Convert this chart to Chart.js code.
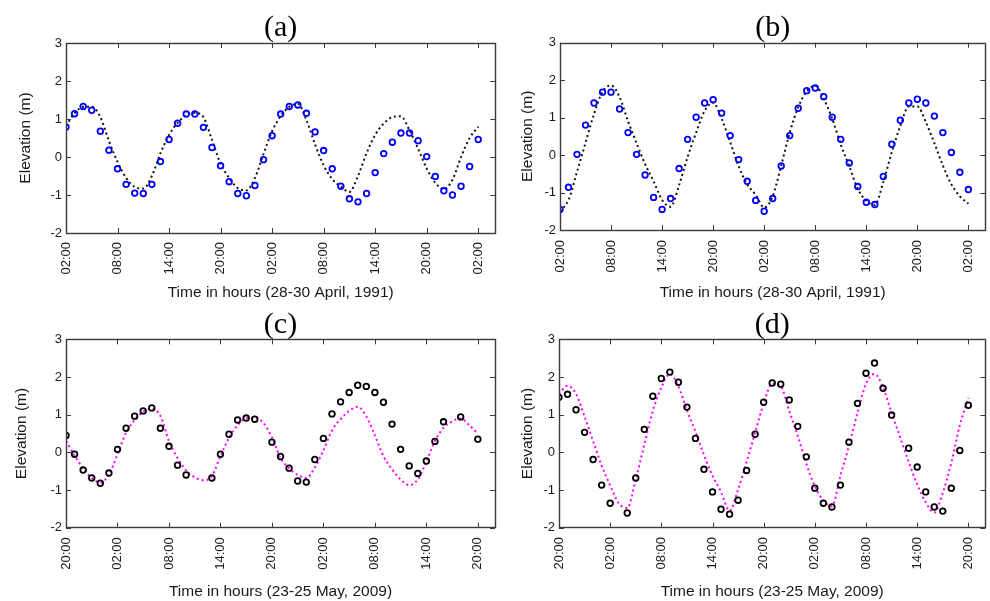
<!DOCTYPE html>
<html>
<head>
<meta charset="utf-8">
<script src="https://cdn.jsdelivr.net/npm/chart.js@4.4.0/dist/chart.umd.min.js"></script>
<style>
  body { margin: 0; background: #fff; }
  #wrap { position: relative; width: 990px; height: 601px; overflow: hidden; background: #fff; }
  canvas { position: absolute; }
</style>
</head>
<body>
<div id="wrap">
  <canvas id="chartA" width="500" height="300" style="left:0;top:0"></canvas>
  <canvas id="chartB" width="496" height="300" style="left:494px;top:0"></canvas>
  <canvas id="chartC" width="500" height="301" style="left:0;top:300px"></canvas>
  <canvas id="chartD" width="496" height="301" style="left:494px;top:300px"></canvas>
</div>
<script>
// hours since start of each record
const hours = [0, 1, 2, 3, 4, 5, 6, 7, 8, 9, 10, 11, 12, 13, 14, 15, 16, 17, 18, 19, 20, 21, 22, 23, 24,
  25, 26, 27, 28, 29, 30, 31, 32, 33, 34, 35, 36, 37, 38, 39, 40, 41, 42, 43, 44, 45, 46, 47, 48];

const xTicksApril = ['02:00', '08:00', '14:00', '20:00', '02:00', '08:00', '14:00', '20:00', '02:00'];
const xTicksMay = ['20:00', '02:00', '08:00', '14:00', '20:00', '02:00', '08:00', '14:00', '20:00'];

// (a) observed (circles) and model (dotted)
const obsA = [0.79, 1.14, 1.33, 1.23, 0.68, 0.18, -0.31, -0.72, -0.95, -0.96, -0.72, -0.12, 0.46, 0.89, 1.13, 1.13,
  0.78, 0.25, -0.23, -0.65, -0.96, -1.02, -0.75, -0.07, 0.56, 1.13, 1.33, 1.37, 1.15, 0.66, 0.17, -0.31, -0.77,
  -1.10, -1.18, -0.96, -0.41, 0.09, 0.39, 0.63, 0.63, 0.43, 0.01, -0.51, -0.89, -1.00, -0.77, -0.25, 0.46];
const modelA = [0.82, 1.15, 1.32, 1.32, 1.05, 0.42, -0.13, -0.55, -0.79, -0.83, -0.5, 0.1, 0.58, 0.9, 1.1, 1.16,
  1.05, 0.45, -0.18, -0.55, -0.82, -0.88, -0.55, 0.08, 0.68, 1.08, 1.32, 1.4, 0.97, 0.33, -0.22, -0.58, -0.78,
  -0.92, -0.5, 0.1, 0.58, 0.88, 1.05, 1.07, 0.7, 0.22, -0.3, -0.68, -0.85, -0.6, 0.0, 0.5, 0.8];

// (b)
const obsB = [-1.45, -0.86, 0.02, 0.80, 1.39, 1.68, 1.68, 1.23, 0.60, 0.02, -0.53, -1.13, -1.45, -1.16, -0.36, 0.42,
  1.01, 1.39, 1.48, 1.12, 0.52, -0.12, -0.70, -1.21, -1.50, -1.16, -0.29, 0.52, 1.25, 1.72, 1.79, 1.56, 1.01,
  0.42, -0.21, -0.84, -1.26, -1.32, -0.57, 0.29, 0.93, 1.39, 1.49, 1.39, 1.04, 0.60, 0.07, -0.46, -0.92];
const modelB = [-1.5, -1.2, -0.45, 0.33, 1.1, 1.69, 1.86, 1.55, 0.9, 0.32, -0.24, -0.7, -1.2, -1.38, -0.8, -0.05,
  0.6, 1.18, 1.4, 0.97, 0.35, -0.3, -0.78, -1.06, -1.4, -1.1, -0.28, 0.6, 1.28, 1.7, 1.85, 1.5, 0.97, 0.28,
  -0.3, -0.9, -1.22, -1.33, -0.72, 0.08, 0.78, 1.3, 1.3, 0.88, 0.32, -0.28, -0.78, -1.1, -1.3];

// (c)
const obsC = [0.45, -0.05, -0.47, -0.68, -0.82, -0.55, 0.08, 0.64, 0.96, 1.10, 1.18, 0.64, 0.16, -0.34, -0.60, null,
  null, -0.68, -0.05, 0.48, 0.86, 0.91, 0.88, null, 0.27, -0.11, -0.42, -0.76, -0.79, -0.19, 0.37, 1.02, 1.34,
  1.59, 1.78, 1.75, 1.59, 1.33, 0.75, 0.08, -0.36, -0.56, -0.23, 0.29, 0.81, null, 0.94, null, 0.35];
const modelC = [0.3, -0.08, -0.43, -0.68, -0.8, -0.6, -0.05, 0.52, 0.86, 1.08, 1.16, 0.97, 0.3, -0.15, -0.48, -0.66,
  -0.74, -0.63, -0.1, 0.38, 0.72, 0.9, 0.92, 0.78, 0.4, -0.15, -0.42, -0.6, -0.68, -0.4, 0.05, 0.58, 0.88, 1.1,
  1.21, 0.95, 0.45, -0.1, -0.45, -0.72, -0.87, -0.72, -0.25, 0.3, 0.65, 0.82, 0.9, 0.72, 0.5];

// (d)
const obsD = [1.46, 1.54, 1.13, 0.53, -0.19, -0.87, -1.35, null, -1.61, -0.68, 0.61, 1.49, 1.96, 2.13, 1.86, 1.20,
  0.37, -0.45, -1.05, -1.51, -1.64, -1.27, -0.48, 0.48, 1.33, 1.84, 1.81, 1.39, 0.69, -0.12, -0.95, -1.35, -1.45,
  -0.87, 0.27, 1.30, 2.10, 2.37, 1.70, 0.99, null, 0.11, -0.39, -1.05, -1.45, -1.56, -0.95, 0.05, 1.25];
const modelD = [1.55, 1.77, 1.55, 0.95, 0.3, -0.35, -0.88, -1.35, -1.48, -0.72, 0.2, 1.1, 1.72, 2.08, 1.75, 1.12,
  0.55, -0.07, -0.62, -1.05, -1.55, -0.99, -0.25, 0.52, 1.3, 1.82, 1.75, 1.1, 0.44, -0.3, -0.9, -1.28, -1.43,
  -0.62, 0.17, 1.05, 1.82, 2.08, 1.72, 1.05, 0.4, -0.25, -0.85, -1.32, -1.6, -1.08, -0.28, 0.72, 1.45];

const sans = '"Liberation Sans", Arial, sans-serif';

// matlab style box with inward ticks on all four sides
const frameTicks = {
  id: 'frameTicks',
  afterDatasetsDraw(chart) {
    const { ctx, chartArea: a, scales: { x, y } } = chart;
    const len = 5;
    ctx.save();
    ctx.strokeStyle = '#3a3a3a';
    ctx.lineWidth = 1;
    ctx.beginPath();
    x.ticks.forEach(t => {
      const px = Math.round(x.getPixelForValue(t.value)) + 0.5;
      ctx.moveTo(px, a.bottom); ctx.lineTo(px, a.bottom - len);
      ctx.moveTo(px, a.top); ctx.lineTo(px, a.top + len);
    });
    y.ticks.forEach(t => {
      const py = Math.round(y.getPixelForValue(t.value)) + 0.5;
      ctx.moveTo(a.left, py); ctx.lineTo(a.left + len, py);
      ctx.moveTo(a.right, py); ctx.lineTo(a.right - len, py);
    });
    ctx.stroke();
    ctx.lineWidth = 1.4;
    ctx.strokeRect(Math.round(a.left) + 0.5, Math.round(a.top) + 0.5,
      Math.round(a.width), Math.round(a.height));
    ctx.restore();
  }
};

function toPoints(arr) {
  return hours.map((h, i) => ({ x: h, y: arr[i] }));
}

function makePanel(p) {
  const ctx = document.getElementById(p.id).getContext('2d');
  return new Chart(ctx, {
    type: 'line',
    data: {
      datasets: [{
        label: 'Observed',
        data: toPoints(p.obs),
        showLine: false,
        pointStyle: 'circle',
        pointRadius: 2.8,
        pointBorderWidth: 1.8,
        pointBorderColor: p.obsColor,
        pointBackgroundColor: 'rgba(255,255,255,0)',
        pointHoverRadius: 2.8
      }, {
        label: 'Model',
        data: toPoints(p.model),
        borderColor: p.lineColor,
        borderWidth: 2,
        borderDash: [2, 3],
        pointRadius: 0,
        fill: false,
        cubicInterpolationMode: 'monotone'
      }]
    },
    options: {
      responsive: false,
      animation: false,
      devicePixelRatio: 1,
      layout: { padding: { left: 0, right: p.padRight, top: 0, bottom: 0 } },
      plugins: {
        legend: { display: false },
        tooltip: { enabled: false },
        title: {
          display: true,
          text: p.title,
          fullSize: false,
          color: '#000',
          font: { family: '"Liberation Serif", "Times New Roman", serif', size: 30, weight: 'normal', lineHeight: 0.9 },
          padding: p.titlePad
        }
      },
      scales: {
        x: {
          type: 'linear',
          min: 0,
          max: 50,
          grid: { display: false, drawTicks: false },
          border: { display: false },
          ticks: {
            stepSize: 6,
            includeBounds: false,
            autoSkip: false,
            minRotation: 90,
            maxRotation: 90,
            padding: p.xLabelPad,
            color: '#1a1a1a',
            font: { family: sans, size: 13 },
            callback: (v, i) => p.ticks[i]
          },
          title: {
            display: true,
            text: p.xTitle,
            color: '#1a1a1a',
            font: { family: sans, size: 15.5, lineHeight: 1 },
            padding: { top: 0, bottom: p.xTitlePad }
          },
          afterFit: s => {
            s.height = p.xHeight;
            s.paddingLeft = 0;
            s.paddingRight = 0;
          }
        },
        y: {
          min: -2,
          max: 3,
          grid: { display: false, drawTicks: false },
          border: { display: false },
          ticks: {
            stepSize: 1,
            padding: 4,
            color: '#1a1a1a',
            font: { family: sans, size: 13 }
          },
          title: {
            display: true,
            text: 'Elevation (m)',
            color: '#1a1a1a',
            font: { family: sans, size: 15.5, lineHeight: 1.2 },
            padding: { top: p.yTitlePad, bottom: 0 }
          },
          afterFit: s => { s.width = p.yWidth; }
        }
      }
    },
    plugins: [frameTicks]
  });
}

const panels = [
  { id: 'chartA', title: '(a)', xTitle: 'Time in hours (28-30 April, 1991)', ticks: xTicksApril,
    obs: obsA, model: modelA, obsColor: '#0000ff', lineColor: '#111111',
    yWidth: 66, xHeight: 67, padRight: 4, titlePad: { top: 15, bottom: 1 }, yTitlePad: 16, xLabelPad: 9, xTitlePad: 0 },
  { id: 'chartB', title: '(b)', xTitle: 'Time in hours (28-30 April, 1991)', ticks: xTicksApril,
    obs: obsB, model: modelB, obsColor: '#0000ff', lineColor: '#111111',
    yWidth: 66, xHeight: 70, padRight: 2, titlePad: { top: 15, bottom: 0.7 }, yTitlePad: 24.4, xLabelPad: 10, xTitlePad: 0 },
  { id: 'chartC', title: '(c)', xTitle: 'Time in hours (23-25 May, 2009)', ticks: xTicksMay,
    obs: obsC, model: modelC, obsColor: '#000000', lineColor: '#ff00ff',
    yWidth: 66, xHeight: 73.3, padRight: 5, titlePad: { top: 12, bottom: 0.3 }, yTitlePad: 12.4, xLabelPad: 9.5, xTitlePad: 1.6 },
  { id: 'chartD', title: '(d)', xTitle: 'Time in hours (23-25 May, 2009)', ticks: xTicksMay,
    obs: obsD, model: modelD, obsColor: '#000000', lineColor: '#ff00ff',
    yWidth: 65, xHeight: 73.3, padRight: 2, titlePad: { top: 12, bottom: 0.3 }, yTitlePad: 24.4, xLabelPad: 9.3, xTitlePad: 1.6 }
];

panels.forEach(makePanel);
</script>
</body>
</html>
